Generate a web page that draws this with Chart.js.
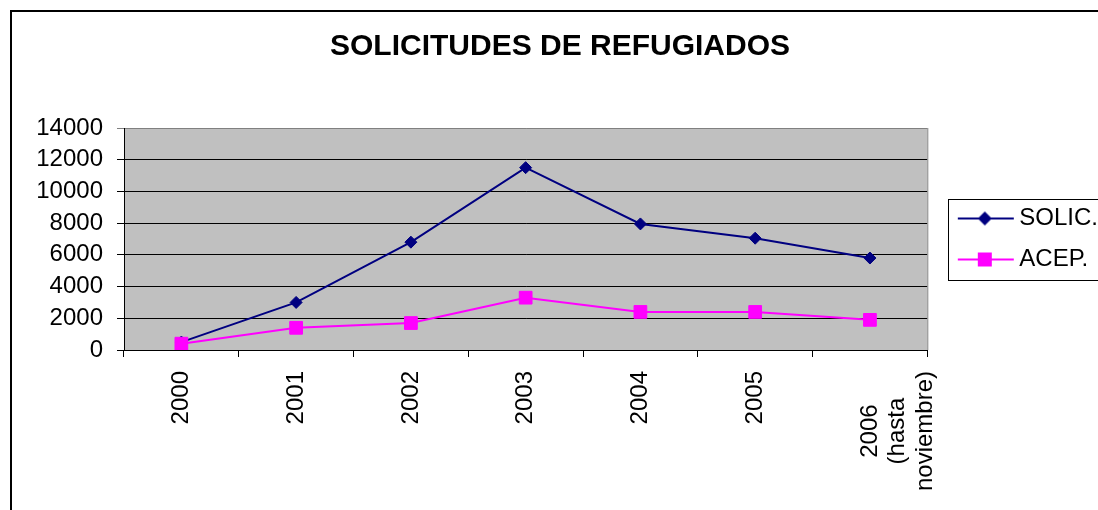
<!DOCTYPE html>
<html lang="es">
<head>
  <meta charset="UTF-8" />
  <title>Solicitudes de refugiados</title>
  <script src="https://cdn.jsdelivr.net/npm/chart.js"></script>
  <style>
    html,body{margin:0;padding:0;background:#fff;overflow:hidden;}
    #marco{position:absolute;left:10px;top:10px;width:1110px;height:520px;border-left:2px solid #000;border-top:2px solid #000;}
    canvas{display:block;}
  </style>
</head>
<body>
  <div id="marco"><canvas id="chart" width="1096" height="498"></canvas></div>

  <script>
    // datos
    const anios = ['2000', '2001', '2002', '2003', '2004', '2005', ['2006     ', '(hasta    ', 'noviembre)']];
    const solicitudes = [500, 3000, 6800, 11500, 7950, 7050, 5800];
    const aceptadas = [400, 1400, 1700, 3300, 2400, 2400, 1900];
    const ticksY = [0, 2000, 4000, 6000, 8000, 10000, 12000, 14000];

    const fuente = 'Liberation Sans, Arial, sans-serif';

    // icono de leyenda: línea con marcador
    function icono(color, tipo) {
      const c = document.createElement('canvas');
      c.width = 82; c.height = 20;
      const g = c.getContext('2d');
      g.strokeStyle = color; g.fillStyle = color; g.lineWidth = 2;
      g.beginPath(); g.moveTo(23, 10); g.lineTo(79, 10); g.stroke();
      g.beginPath();
      if (tipo === 'rombo') {
        g.moveTo(50, 3); g.lineTo(57, 10); g.lineTo(50, 17); g.lineTo(43, 10);
      } else {
        g.rect(43, 3, 14, 14);
      }
      g.closePath(); g.fill();
      return c;
    }

    // fondo gris del área de trazado y borde derecho
    const fondo = {
      id: 'fondo',
      beforeDraw(chart) {
        const {ctx, chartArea: a} = chart;
        ctx.save();
        ctx.fillStyle = '#C0C0C0';
        ctx.fillRect(a.left, a.top, a.right - a.left, a.bottom - a.top);
        ctx.restore();
      },
      afterDraw(chart) {
        const {ctx, chartArea: a} = chart;
        ctx.save();
        ctx.strokeStyle = '#808080'; ctx.lineWidth = 1;
        ctx.beginPath(); ctx.moveTo(a.right + 0.5, a.top); ctx.lineTo(a.right + 0.5, a.bottom); ctx.stroke();
        // recuadro de la leyenda
        const hb = chart.legend.legendHitBoxes;
        if (hb && hb.length) {
          const x0 = hb[0].left + 4, y0 = hb[0].top - 8;
          const y1 = hb[hb.length - 1].top + hb[hb.length - 1].height + 8;
          ctx.strokeStyle = '#000';
          ctx.strokeRect(Math.round(x0) + 0.5, Math.round(y0) + 0.5, chart.width, Math.round(y1 - y0));
        }
        ctx.restore();
      }
    };

    const chart = new Chart(document.getElementById('chart'), {
      type: 'line',
      data: {
        labels: anios,
        datasets: [
          {label: 'SOLIC.', data: solicitudes, borderColor: '#000080', backgroundColor: '#000080',
           borderWidth: 2, pointStyle: 'rectRot', pointRadius: 6, pointHoverRadius: 6,
           pointBackgroundColor: '#000080', pointBorderColor: '#000080', pointBorderWidth: 1,
           order: 1},
          {label: 'ACEP.', data: aceptadas, borderColor: '#FF00FF', backgroundColor: '#FF00FF',
           borderWidth: 2, pointStyle: 'rect', pointRadius: 9, pointHoverRadius: 9,
           pointBackgroundColor: '#FF00FF', pointBorderColor: '#FF00FF', pointBorderWidth: 1,
           order: 0}
        ]
      },
      options: {
        responsive: false,
        animation: false,
        layout: {padding: 0},
        plugins: {
          title: {
            display: true, text: 'SOLICITUDES DE REFUGIADOS', color: '#000',
            font: {family: fuente, size: 30, weight: 'bold', lineHeight: 1.2},
            padding: {top: 17, bottom: 63}
          },
          legend: {
            position: 'right', fullSize: false, align: 'center',
            labels: {
              color: '#000', font: {family: fuente, size: 24}, padding: 17,
              usePointStyle: true, pointStyleWidth: 63,
              sort: (a, b) => a.datasetIndex - b.datasetIndex,
              generateLabels(chart) {
                const iconos = [icono('#000080', 'rombo'), icono('#FF00FF', 'cuadro')];
                return chart.data.datasets.map((d, i) => ({
                  text: d.label, datasetIndex: i, pointStyle: iconos[i],
                  fillStyle: d.borderColor, strokeStyle: d.borderColor, lineWidth: 0, hidden: false
                }));
              }
            }
          },
          tooltip: {enabled: false}
        },
        scales: {
          x: {
            offset: true,
            grid: {offset: true, drawOnChartArea: false, drawTicks: true, tickLength: 7, color: '#000'},
            border: {color: '#000', width: 1},
            ticks: {color: '#000', font: {family: fuente, size: 24, lineHeight: 1.15}, padding: 14,
                    minRotation: 90, maxRotation: 90, autoSkip: false},
            afterFit(s) { s.height = 160; s.paddingLeft = 0; s.paddingRight = 0; }
          },
          y: {
            min: 0, max: 14000,
            afterBuildTicks(s) { s.ticks = ticksY.map(v => ({value: v})); },
            grid: {color: c => c.tick && c.tick.value === 14000 ? '#808080' : '#000', lineWidth: 1, tickLength: 7},
            border: {color: '#000', width: 1},
            ticks: {color: '#000', font: {family: fuente, size: 24}, padding: 14, autoSkip: false,
                    callback: v => String(v)},
            afterFit(s) { s.width = 112; s.paddingTop = 0; s.paddingBottom = 0; }
          }
        }
      },
      plugins: [fondo]
    });
  </script>
</body>
</html>
